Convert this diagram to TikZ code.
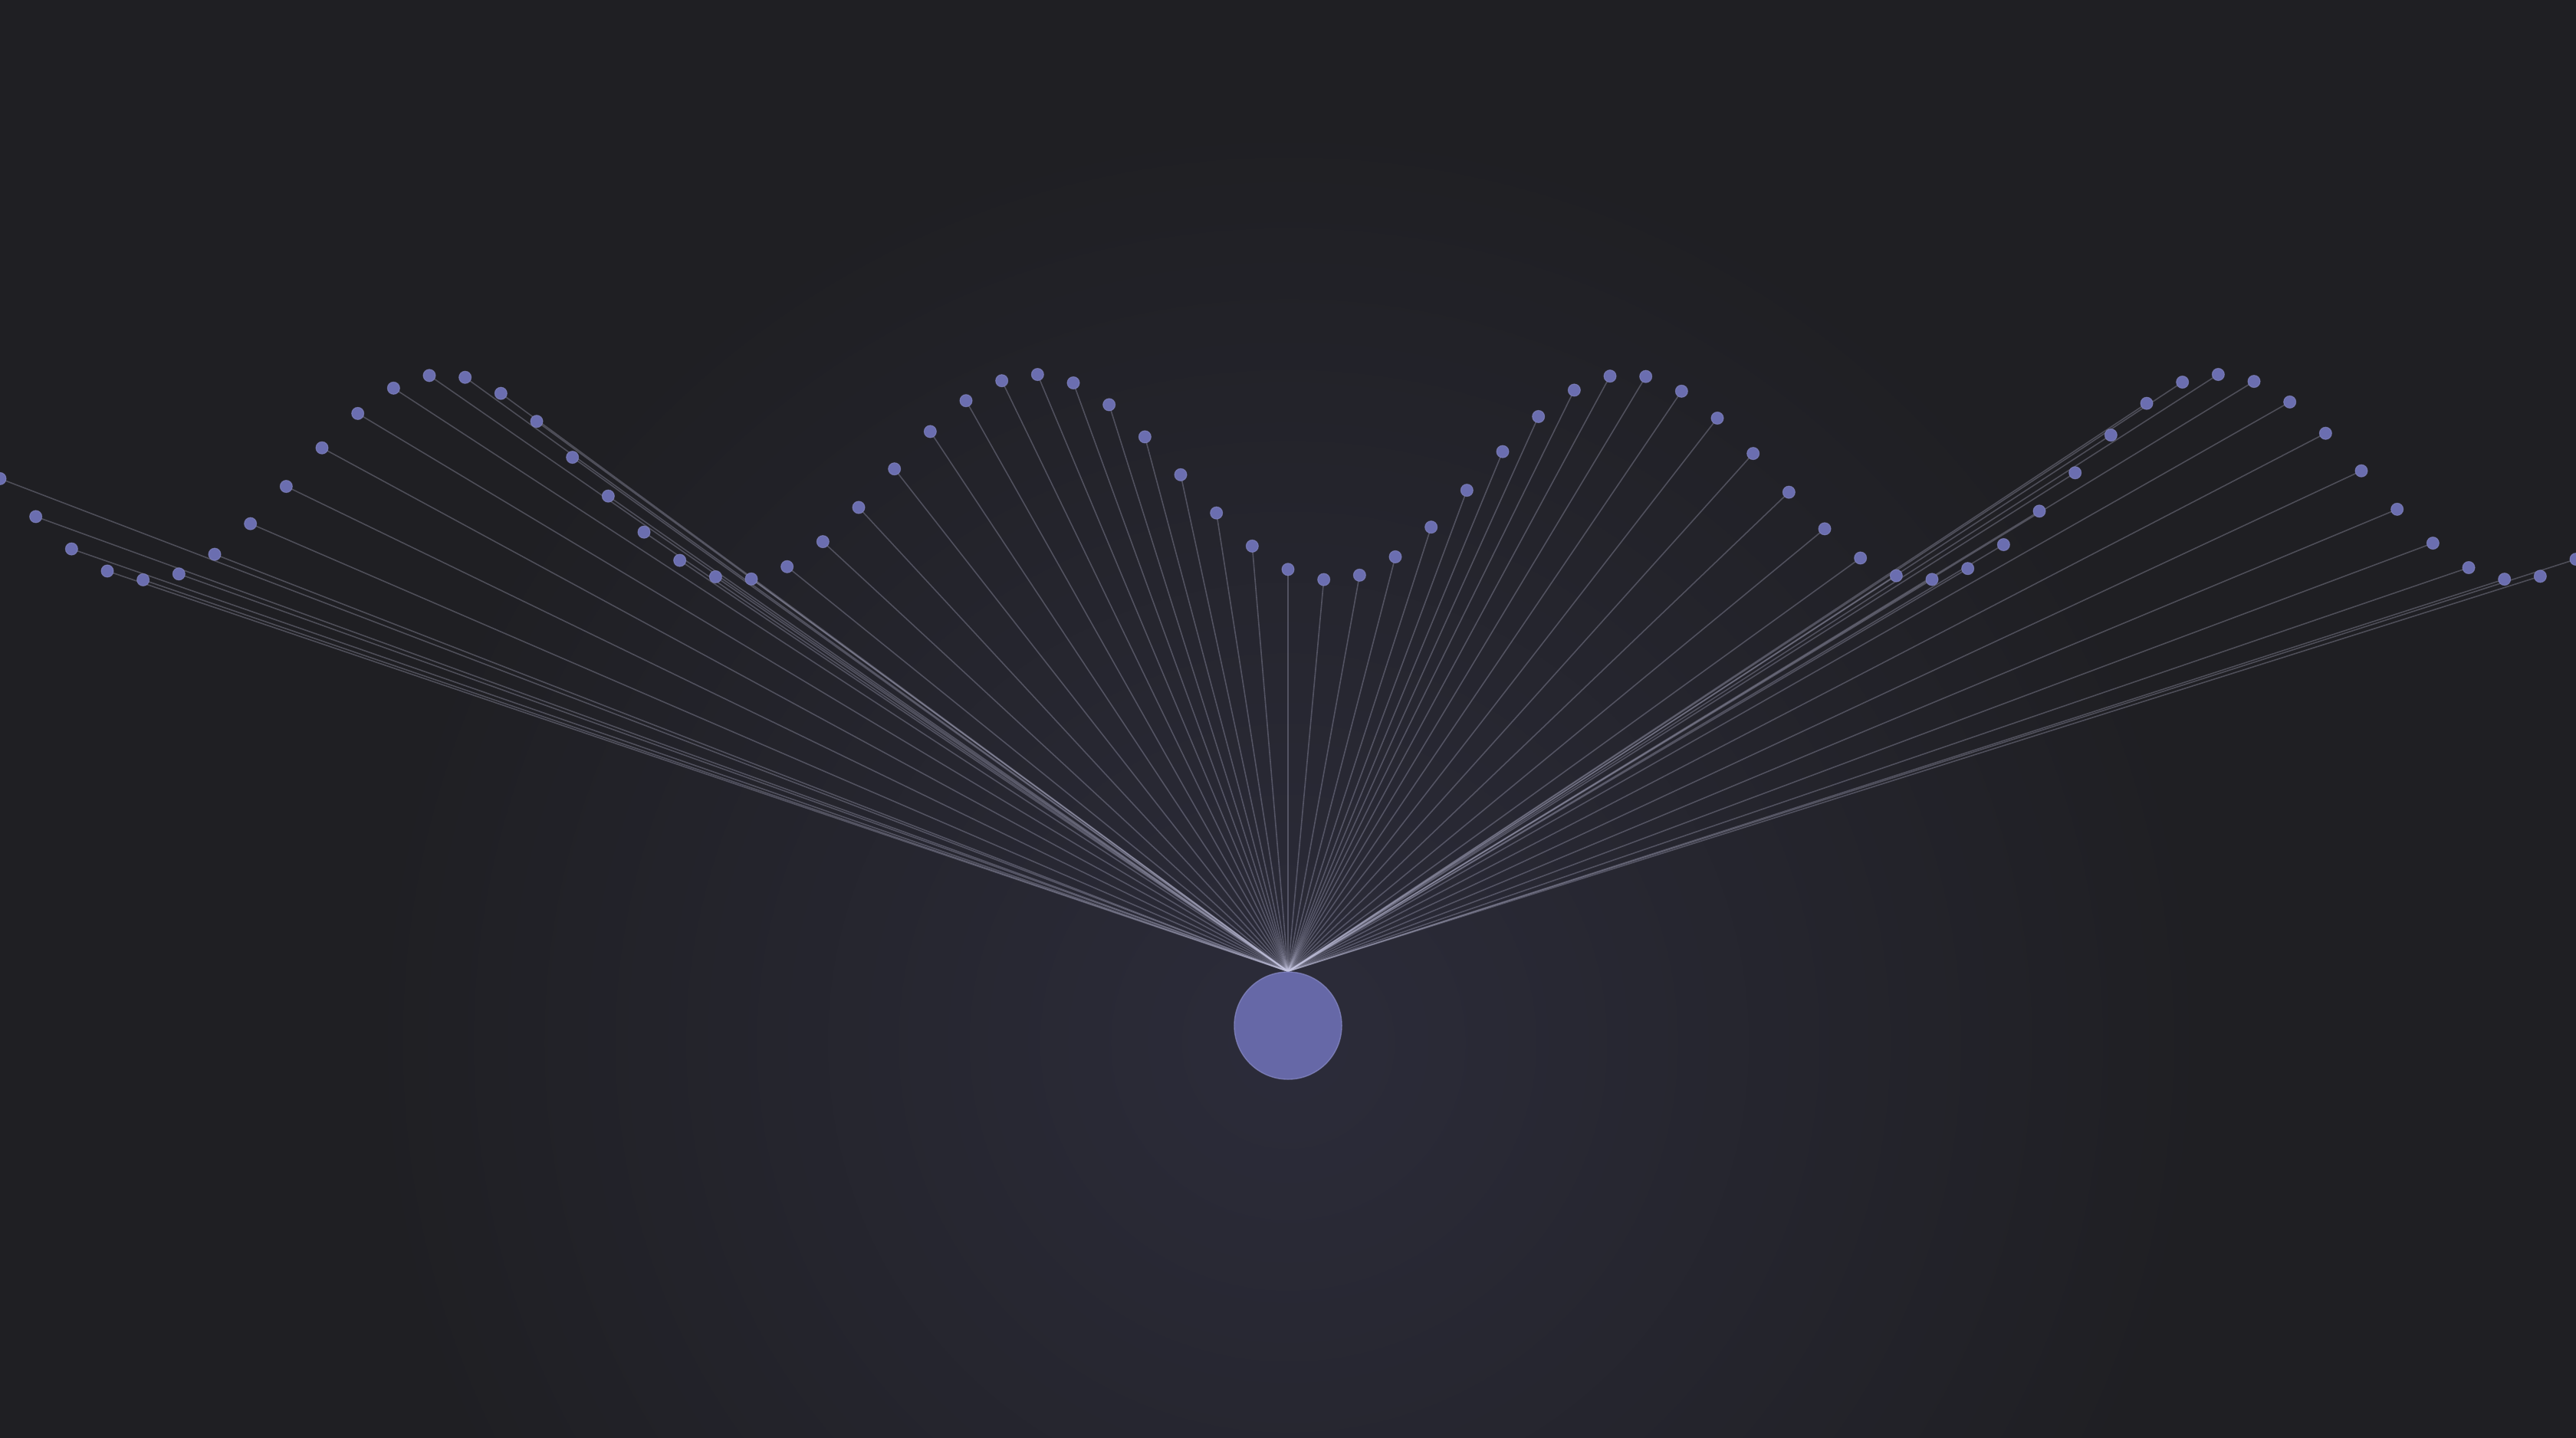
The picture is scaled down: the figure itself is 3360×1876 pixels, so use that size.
\documentclass[tikz,border=0pt]{standalone}
\definecolor{bgdark}{HTML}{1F1F23}
\definecolor{bgglow}{HTML}{2C2C3A}
\definecolor{dotfill}{HTML}{6B6EB0}
\definecolor{dotedge}{HTML}{8A8CC8}
\definecolor{spokecol}{HTML}{C8C8E4}
\pgfdeclarelayer{back}
\pgfdeclarelayer{spokes}
\pgfsetlayers{back,spokes,main}

\begin{document}
\begin{tikzpicture}[x=0.01cm, y=-0.01cm, dot/.style={circle,fill=dotfill,draw=dotedge,draw opacity=0.6,line width=0.3pt,minimum size=0.16cm,inner sep=0pt}, hub/.style={circle,fill=dotfill!95!black,draw=dotedge,draw opacity=0.7,line width=0.4pt,minimum size=1.4cm,inner sep=0pt}, spoke/.style={draw=spokecol,draw opacity=0.28,line width=0.45pt}]
\useasboundingbox (0,0) rectangle (3360,1876);
\begin{pgfonlayer}{back}
\fill[bgdark] (0,0) rectangle (3360,1876);
\shade[inner color=bgglow, outer color=bgdark] (1680,1360) circle [radius=12cm];
\end{pgfonlayer}
\node[hub] (hub) at (1680,1338) {};
\foreach \i in {0,...,72}{
  \pgfmathsetmacro{\px}{\i*46.6667}
  \pgfmathsetmacro{\py}{622.5+134*cos((\i-4.1)/16.55*360)}
  \node[dot] (d\i) at (\px,\py) {};
  \begin{pgfonlayer}{spokes}
  \draw[spoke] (d\i.center) -- (hub.north);
  \end{pgfonlayer}
}
\end{tikzpicture}
\end{document}
